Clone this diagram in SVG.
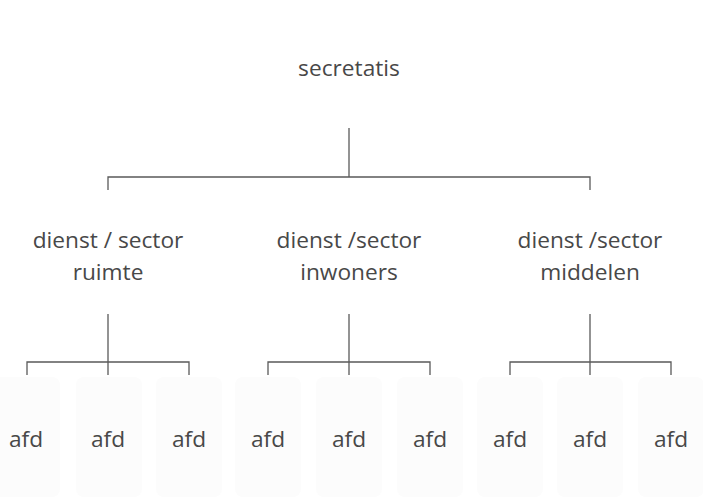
<svg xmlns="http://www.w3.org/2000/svg" width="703" height="500" viewBox="0 0 703 500">
<style>
text{font-family:"Open Sans","Noto Sans","Liberation Sans",sans-serif;font-size:22.7px;fill:#484848;text-anchor:middle}
.bg{fill:#fcfcfc}
.c{stroke:#5a5a5a;stroke-width:1.3;fill:none}
</style>
<rect width="703" height="500" fill="#ffffff"/>
<g id="connectors">
<path class="c" d="M349 128V177M108 190V177H590V190"/>
<path class="c" d="M108 314V362M27 375V362H189V375M108 362V375"/>
<path class="c" d="M349 314V362M268 375V362H430V375M349 362V375"/>
<path class="c" d="M590 314V362M510 375V362H671V375M590 362V375"/>
</g>
<g id="secretatis"><text x="349" y="76">secretatis</text></g>
<g id="sector-ruimte"><text x="108" y="248">dienst / sector</text><text x="108" y="280">ruimte</text></g>
<g id="sector-inwoners"><text x="349" y="248">dienst /sector</text><text x="349" y="280">inwoners</text></g>
<g id="sector-middelen"><text x="590" y="248">dienst /sector</text><text x="590" y="280">middelen</text></g>
<g id="afd1"><rect class="bg" x="-6" y="377" width="66" height="120" rx="8"/><text x="26" y="447">afd</text></g>
<g id="afd2"><rect class="bg" x="76" y="377" width="66" height="120" rx="8"/><text x="108" y="447">afd</text></g>
<g id="afd3"><rect class="bg" x="156" y="377" width="66" height="120" rx="8"/><text x="189" y="447">afd</text></g>
<g id="afd4"><rect class="bg" x="235" y="377" width="66" height="120" rx="8"/><text x="268" y="447">afd</text></g>
<g id="afd5"><rect class="bg" x="316" y="377" width="66" height="120" rx="8"/><text x="349" y="447">afd</text></g>
<g id="afd6"><rect class="bg" x="397" y="377" width="66" height="120" rx="8"/><text x="430" y="447">afd</text></g>
<g id="afd7"><rect class="bg" x="477" y="377" width="66" height="120" rx="8"/><text x="510" y="447">afd</text></g>
<g id="afd8"><rect class="bg" x="557" y="377" width="66" height="120" rx="8"/><text x="590" y="447">afd</text></g>
<g id="afd9"><rect class="bg" x="638" y="377" width="66" height="120" rx="8"/><text x="671" y="447">afd</text></g>
</svg>
